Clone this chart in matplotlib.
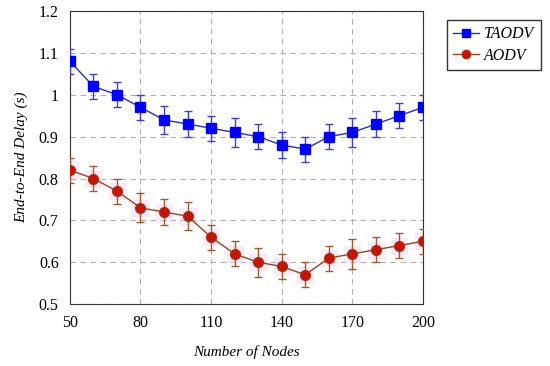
import numpy as np
import matplotlib.pyplot as plt
from matplotlib.lines import Line2D

nodes = [50, 60, 70, 80, 90, 100, 110, 120, 130, 140, 150, 160, 170, 180, 190, 200]
taodv = [1.08, 1.02, 1.00, 0.97, 0.94, 0.93, 0.92, 0.91, 0.90, 0.88, 0.87, 0.90, 0.91, 0.93, 0.95, 0.97]
taodv_err = [0.03, 0.03, 0.03, 0.03, 0.033, 0.03, 0.03, 0.035, 0.03, 0.03, 0.03, 0.03, 0.035, 0.03, 0.03, 0.03]
aodv = [0.82, 0.80, 0.77, 0.73, 0.72, 0.71, 0.66, 0.62, 0.60, 0.59, 0.57, 0.61, 0.62, 0.63, 0.64, 0.65]
aodv_err = [0.03, 0.03, 0.03, 0.035, 0.03, 0.033, 0.03, 0.03, 0.035, 0.03, 0.03, 0.03, 0.035, 0.03, 0.03, 0.03]

plt.rcParams['font.family'] = ['Liberation Serif', 'DejaVu Serif']
plt.rcParams['font.size'] = 11

fig = plt.figure(figsize=(5.5, 3.66), dpi=100)
ax = fig.add_axes([0.127, 0.169, 0.642, 0.801])

# faint pink halo behind the red markers
ax.plot(nodes, aodv, 's', color='#ffc8ee', alpha=0.35, markersize=12, zorder=2)

ax.errorbar(nodes, taodv, yerr=taodv_err, color='#2a2ad8', ecolor='#4040d0',
            marker='s', markersize=7, markerfacecolor='#0000ff', markeredgecolor='#0000ff',
            linewidth=1, elinewidth=1, capsize=3, zorder=3)
ax.errorbar(nodes, aodv, yerr=aodv_err, color='#a0401a', ecolor='#a05a30',
            marker='o', markersize=7, markerfacecolor='#cc1100', markeredgecolor='#a03010',
            linewidth=1, elinewidth=1, capsize=3, zorder=3)

ax.set_xlim(50, 200)
ax.set_ylim(0.5, 1.2)
ax.set_xticks([50, 80, 110, 140, 170, 200])
ax.set_yticks([0.5, 0.6, 0.7, 0.8, 0.9, 1.0, 1.1, 1.2])
ax.set_yticklabels(['0.5', '0.6', '0.7', '0.8', '0.9', '1', '1.1', '1.2'])
ax.tick_params(length=0, pad=8, labelsize=11.5)
ax.grid(True, linestyle=(0, (5, 4)), color='#b0b0b0', linewidth=0.8)
for s in ax.spines.values():
    s.set_color('#333333')

ax.set_xlabel('Number of Nodes', style='italic', labelpad=10)
ax.set_ylabel('End-to-End Delay (s)', style='italic', labelpad=8)

handles = [
    Line2D([], [], color='#2a2ad8', marker='s', markersize=6, markerfacecolor='#0000ff',
           markeredgecolor='#0000ff', linewidth=1),
    Line2D([], [], color='#a0401a', marker='o', markersize=6, markerfacecolor='#cc1100',
           markeredgecolor='#a03010', linewidth=1),
]
fig.legend(handles, ['TAODV', 'AODV'], loc='upper left', bbox_to_anchor=(0.812, 0.946),
           frameon=True, fancybox=False, edgecolor='black', handlelength=1.6,
           handletextpad=0.35, borderpad=0.4, labelspacing=0.35, borderaxespad=0,
           prop={'style': 'italic', 'size': 11.5})

fig.savefig('out.png', dpi=100)
